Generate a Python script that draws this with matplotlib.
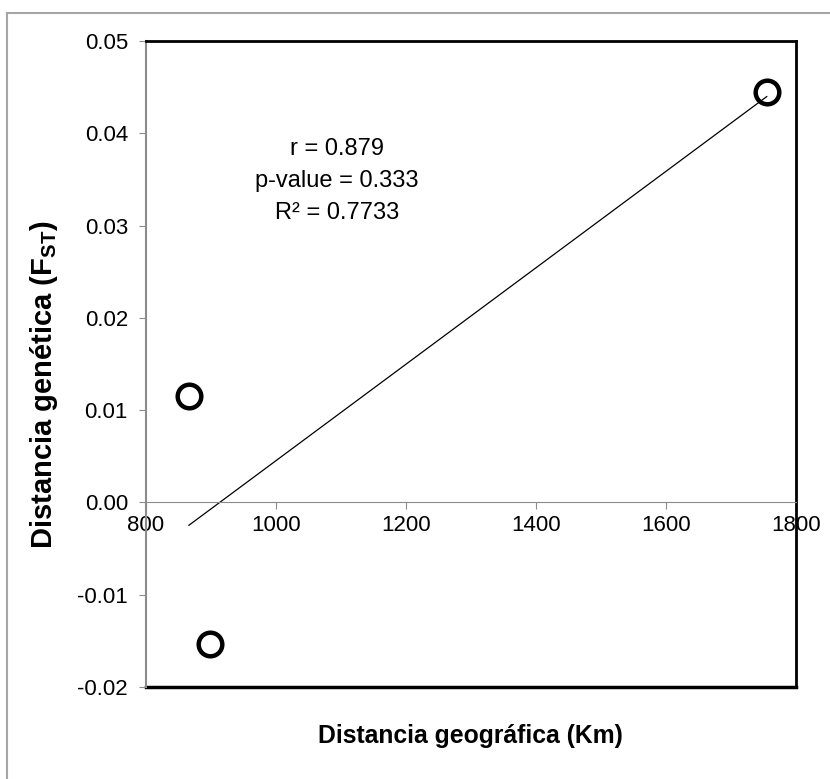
#
# plot.py: FST vs geographic distance scatter with linear trendline
#
import numpy as np
import matplotlib
matplotlib.use('Agg')
import matplotlib.pyplot as plt
from matplotlib.lines import Line2D

plt.rcParams['font.family'] = ['Liberation Sans', 'DejaVu Sans']
plt.rcParams['mathtext.fontset'] = 'custom'
plt.rcParams['mathtext.rm'] = 'Liberation Sans'
plt.rcParams['mathtext.bf'] = 'Liberation Sans:bold'

# data
distancia_km = [866, 898, 1755]
fst = [0.0115, -0.0153, 0.0445]
stats_text = ['r = 0.879', 'p-value = 0.333', 'R² = 0.7733']
x_ticks = [800, 1000, 1200, 1400, 1600, 1800]
y_ticks = [-0.02, -0.01, 0.00, 0.01, 0.02, 0.03, 0.04, 0.05]

fig = plt.figure(figsize=(8.3, 7.79), dpi=100)
ax = fig.add_axes([146/830, 1-687/779, 650/830, 646/779])

x = np.array(distancia_km)
y = np.array(fst)
slope, icpt = np.polyfit(x, y, 1)
xl = np.array([x.min(), x.max()])
ax.plot(xl, slope*xl + icpt, color='black', lw=0.9, zorder=2)
ax.plot(x, y, 'o', ms=17, mfc='none', mec='black', mew=3.2, zorder=3)

ax.set_xlim(800, 1800)
ax.set_ylim(-0.02, 0.05)
ax.set_xticks(x_ticks)
ax.set_yticks(y_ticks)
ax.set_yticklabels(['%.2f' % v for v in y_ticks])

gray = '#8c8c8c'
ax.spines['bottom'].set_position(('data', 0))
ax.spines['bottom'].set_color(gray)
ax.spines['left'].set_color(gray)
ax.spines['left'].set_linewidth(1.5)
ax.spines['top'].set_linewidth(2)
ax.spines['right'].set_linewidth(2)
ax.plot([0, 1], [0, 0], transform=ax.transAxes, color='black', lw=2.5,
        clip_on=False, zorder=1)
ax.tick_params(axis='both', colors=gray, labelcolor='black', labelsize=16,
               length=5, direction='out')
ax.tick_params(axis='y', pad=8)
ax.tick_params(axis='x', pad=4)

for i, t in enumerate(stats_text):
    fig.text(337/830, 1 - (149 + i*32)/779, t, fontsize=17,
             ha='center', va='center')

fig.text(470/830, 1 - 736/779, 'Distancia geográfica (Km)', fontsize=17.8,
         fontweight='bold', ha='center', va='center')
fig.text(44/830, 1 - 385/779, r'Distancia genética (F$_{\mathbf{ST}}$)',
         fontsize=21, fontweight='bold', ha='center', va='center',
         rotation=90)

# outer chart border
fig.add_artist(Line2D([7/830, 7/830], [0, 1-13/779], color='#a6a6a6', lw=1.5))
fig.add_artist(Line2D([7/830, 1], [1-13/779, 1-13/779], color='#a6a6a6', lw=1.5))

fig.savefig('out.png', dpi=100)
